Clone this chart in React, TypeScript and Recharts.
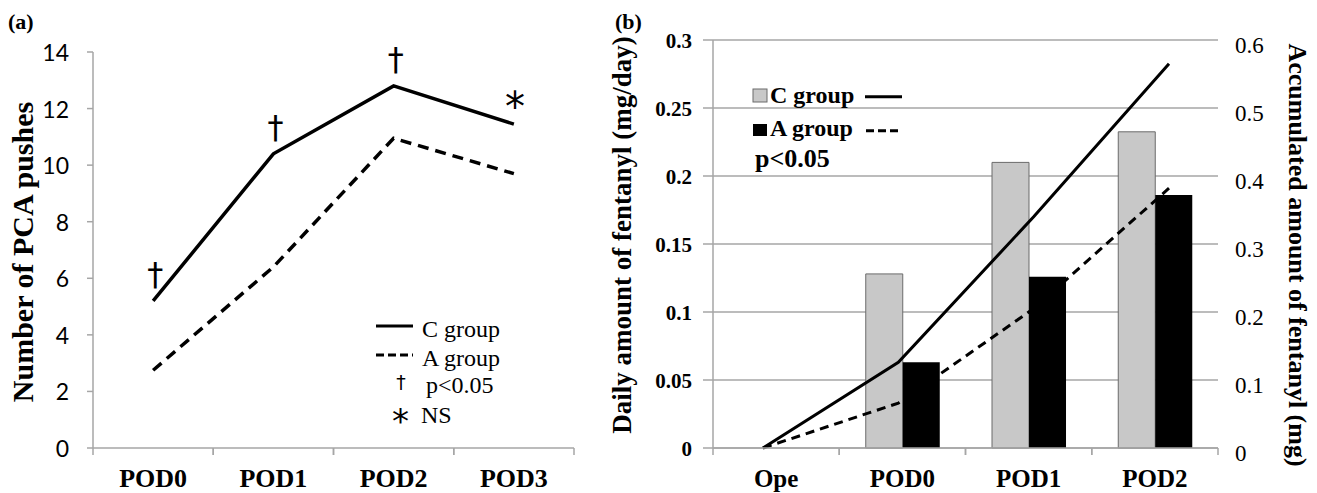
import { LineChart, ComposedChart, Line, Bar, XAxis, YAxis, CartesianGrid, LabelList, Legend } from 'recharts';

const SERIF = '"Liberation Serif", "Times New Roman", serif';
const SANS = 'Lato, "Open Sans", sans-serif';
const SYMBOL = '"DejaVu Sans", sans-serif';
const AXIS_GRAY = '#a6a6a6';

// (a) number of PCA pushes
const pcaDays = ['POD0', 'POD1', 'POD2', 'POD3'];
const pcaC = [5.2, 10.4, 12.8, 11.45];
const pcaA = [2.75, 6.4, 10.95, 9.7];
const pcaMarks = ['†', '†', '†', '*'];
const pcaTicks = [0, 2, 4, 6, 8, 10, 12, 14];

// (b) fentanyl, daily (bars, left axis) and accumulated (lines, right axis)
const fenDays = ['Ope', 'POD0', 'POD1', 'POD2'];
const dailyC = [null, 0.128, 0.21, 0.2325];
const dailyA = [null, 0.063, 0.126, 0.186];
const accC = [0, 0.126, 0.34, 0.565];
const accA = [0, 0.066, 0.205, 0.382];
const dailyTicks = [0, 0.05, 0.1, 0.15, 0.2, 0.25, 0.3];
const accTicks = [0, 0.1, 0.2, 0.3, 0.4, 0.5, 0.6];

const pcaData = pcaDays.map((day, i) => ({ day, c: pcaC[i], a: pcaA[i], mark: pcaMarks[i] }));
const fenData = fenDays.map((day, i) => ({ day, dailyC: dailyC[i], dailyA: dailyA[i], accC: accC[i], accA: accA[i] }));

// category label with tick marks on the band edges (Excel style)
const catTick = (size: number) => (props: any) => {
  const { x, y, payload } = props;
  const half = payload.offset || 0;
  return (
    <g>
      <line x1={x - half} x2={x - half} y1={y} y2={y + 7} stroke={AXIS_GRAY} strokeWidth={1.5} />
      <line x1={x + half} x2={x + half} y1={y} y2={y + 7} stroke={AXIS_GRAY} strokeWidth={1.5} />
      <text x={x} y={y + 39} textAnchor="middle" fontFamily={SERIF} fontWeight="bold" fontSize={size} fill="#000">
        {payload.value}
      </text>
    </g>
  );
};

const numTick = (anchor: 'start' | 'end', family: string, size: number, weight: string, dy: number) => (props: any) => (
  <text x={props.x} y={props.y + dy} textAnchor={anchor} dominantBaseline="central" fontFamily={family} fontSize={size} fontWeight={weight} fill="#000">
    {String(props.payload.value)}
  </text>
);

const axisTitle = (text: string, dx: number, dy: number, angle: number, size: number) => (props: any) => {
  const vb = props.viewBox;
  const x = vb.x + dx;
  const y = vb.y + vb.height / 2 + dy;
  return (
    <text x={x} y={y} transform={`rotate(${angle}, ${x}, ${y})`} textAnchor="middle" fontFamily={SERIF} fontWeight="bold" fontSize={size} fill="#000">
      {text}
    </text>
  );
};

function MarkLabel(props: any) {
  const { x, y, value } = props;
  if (value === '*') {
    return <text x={x + 1} y={y - 3} textAnchor="middle" fontFamily={SYMBOL} fontSize={40} fill="#000">{value}</text>;
  }
  return <text x={x + 2} y={y - 16} textAnchor="middle" fontFamily={SYMBOL} fontSize={32} fill="#000">{value}</text>;
}

function PcaLegend() {
  return (
    <svg width={220} height={150} style={{ overflow: 'visible' }}>
      <line x1={6} x2={43} y1={26} y2={26} stroke="#000" strokeWidth={3} />
      <text x={52} y={37} fontFamily={SERIF} fontSize={24} fill="#000">C group</text>
      <line x1={6} x2={43} y1={55} y2={55} stroke="#000" strokeWidth={3} strokeDasharray="8 4" />
      <text x={52} y={66} fontFamily={SERIF} fontSize={24} fill="#000">A group</text>
      <text x={31} y={89} textAnchor="middle" fontFamily={SYMBOL} fontSize={19} fill="#000">†</text>
      <text x={56} y={93} fontFamily={SERIF} fontSize={24} fill="#000">p&lt;0.05</text>
      <text x={30.5} y={133} textAnchor="middle" fontFamily={SYMBOL} fontSize={34} fill="#000">*</text>
      <text x={51} y={123} fontFamily={SERIF} fontSize={24} fill="#000">NS</text>
    </svg>
  );
}

function FenLegend() {
  return (
    <svg width={180} height={100} style={{ overflow: 'visible' }}>
      <rect x={3} y={9} width={14} height={13} fill="#c8c8c8" stroke="#6b6b6b" />
      <text x={20} y={23} fontFamily={SERIF} fontWeight="bold" fontSize={24} fill="#000">C group</text>
      <line x1={115} x2={152} y1={16.7} y2={16.7} stroke="#000" strokeWidth={3} />
      <rect x={3} y={44} width={14} height={12} fill="#000" />
      <text x={20} y={56} fontFamily={SERIF} fontWeight="bold" fontSize={24} fill="#000">A group</text>
      <line x1={116} x2={152} y1={50.7} y2={50.7} stroke="#000" strokeWidth={3} strokeDasharray="8 4" />
      <text x={5} y={87} fontFamily={SERIF} fontWeight="bold" fontSize={26} fill="#000">p&lt;0.05</text>
    </svg>
  );
}

function PcaChart() {
  return (
    <LineChart width={600} height={493} data={pcaData} margin={{ top: 52, right: 26, bottom: 0, left: 13 }}>
      <XAxis dataKey="day" scale="band" height={45} interval={0} tickSize={0} tickMargin={0} tickLine={false}
        axisLine={{ stroke: AXIS_GRAY, strokeWidth: 1.5 }} tick={catTick(26)} />
      <YAxis domain={[0, 14]} ticks={pcaTicks} interval={0} width={80} tickSize={6} tickMargin={18}
        axisLine={{ stroke: AXIS_GRAY, strokeWidth: 1.5 }} tickLine={{ stroke: AXIS_GRAY, strokeWidth: 1.5 }}
        tick={numTick('end', SANS, 23, 'normal', 0)}
        label={axisTitle('Number of PCA pushes', 20, 2, -90, 30)} />
      <Line dataKey="c" stroke="#000" strokeWidth={3.5} dot={false} activeDot={false} isAnimationActive={false}>
        <LabelList dataKey="mark" content={MarkLabel} />
      </Line>
      <Line dataKey="a" stroke="#000" strokeWidth={3.5} strokeDasharray="11 7" dot={false} activeDot={false} isAnimationActive={false} />
      <Legend layout="horizontal" verticalAlign="middle" align="center" wrapperStyle={{ left: 370, top: 300, width: 220 }} content={PcaLegend} />
    </LineChart>
  );
}

function FentanylChart() {
  return (
    <ComposedChart width={717} height={493} data={fenData} margin={{ top: 40, right: 39, bottom: 0, left: 53 }}
      barCategoryGap="21%" barGap={0}>
      <CartesianGrid vertical={false} stroke={AXIS_GRAY} strokeWidth={1.5} xAxisId="bars" yAxisId="daily" />
      <XAxis xAxisId="bars" dataKey="day" height={45} interval={0} tickSize={0} tickMargin={0} tickLine={false}
        axisLine={{ stroke: AXIS_GRAY, strokeWidth: 1.5 }} tick={catTick(25)} />
      <XAxis xAxisId="acc" dataKey="day" hide height={0} scale="point" padding={{ left: 50, right: 49 }} />
      <YAxis yAxisId="daily" domain={[0, 0.3]} ticks={dailyTicks} interval={0} width={60} tickSize={10} tickMargin={11}
        axisLine={{ stroke: AXIS_GRAY, strokeWidth: 1.5 }} tickLine={{ stroke: AXIS_GRAY, strokeWidth: 1.5 }}
        tick={numTick('end', SERIF, 21, 'bold', 1)}
        label={axisTitle('Daily amount of fentanyl (mg/day)', -22, -9, -90, 27)} />
      <YAxis yAxisId="acc" orientation="right" domain={[0, 0.6]} ticks={accTicks} interval={0} width={60}
        tickSize={0} tickMargin={17} axisLine={false} tickLine={false}
        tick={numTick('start', SERIF, 23, 'normal', 5)}
        label={axisTitle('Accumulated amount of fentanyl (mg)', 71, 11, 90, 26)} />
      <Line xAxisId="acc" yAxisId="acc" dataKey="accC" stroke="#000" strokeWidth={3} dot={false} activeDot={false} isAnimationActive={false} />
      <Line xAxisId="acc" yAxisId="acc" dataKey="accA" stroke="#000" strokeWidth={3} strokeDasharray="9 6" dot={false} activeDot={false} isAnimationActive={false} />
      <Bar xAxisId="bars" yAxisId="daily" dataKey="dailyC" fill="#c8c8c8" stroke="#6b6b6b" strokeWidth={1} isAnimationActive={false} />
      <Bar xAxisId="bars" yAxisId="daily" dataKey="dailyA" fill="#000" isAnimationActive={false} />
      <Legend layout="horizontal" verticalAlign="middle" align="center" wrapperStyle={{ left: 150, top: 80, width: 180 }} content={FenLegend} />
    </ComposedChart>
  );
}

export default function App() {
  return (
    <div style={{ position: 'absolute', left: 0, top: 0, width: 1317, height: 493, background: '#fff', overflow: 'hidden' }}>
      <div style={{ position: 'absolute', left: 0, top: 0 }}>
        <PcaChart />
      </div>
      <div style={{ position: 'absolute', left: 600, top: 0 }}>
        <FentanylChart />
      </div>
      <svg width={1317} height={40} style={{ position: 'absolute', left: 0, top: 0, pointerEvents: 'none' }}>
        <text x={8} y={29} fontFamily={SERIF} fontWeight="bold" fontSize={22} fill="#000">(a)</text>
        <text x={615} y={29} fontFamily={SERIF} fontWeight="bold" fontSize={22} fill="#000">(b)</text>
      </svg>
    </div>
  );
}
